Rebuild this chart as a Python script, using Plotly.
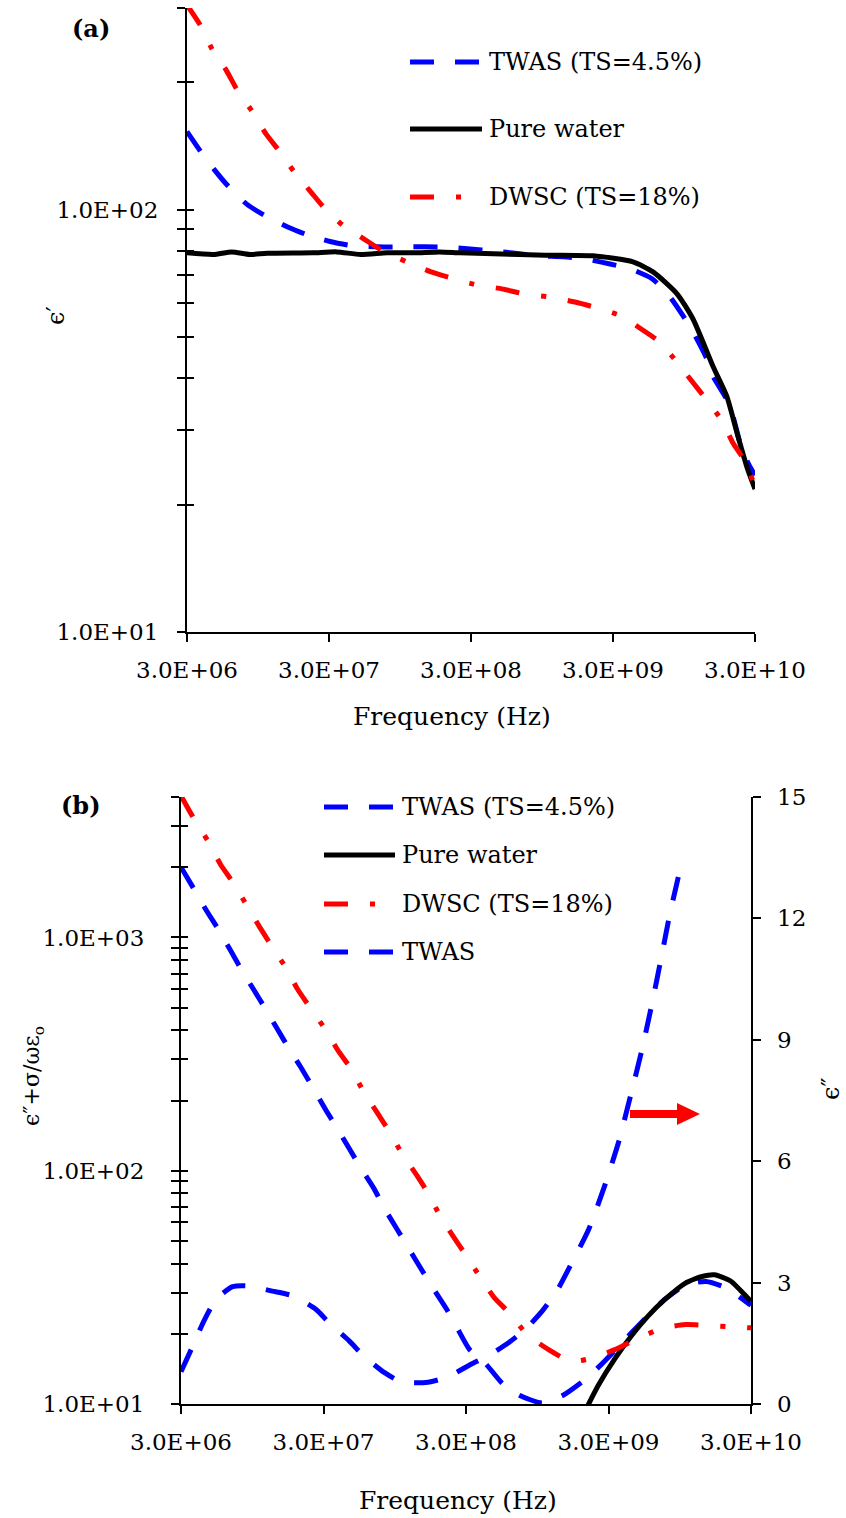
import numpy as np
import plotly.graph_objects as go

W, H = 846, 1518

# ---------------- data: panel (a) real permittivity ----------------
a_twas_f = [3.0e6, 3.7e6, 4.7e6, 5.8e6, 7.9e6, 1.06e7, 1.52e7, 2.1e7, 3.05e7, 4.4e7, 6.5e7, 1.0e8,
            2.0e8, 2.95e8, 4.3e8, 6.6e8, 8.9e8, 1.33e9, 1.9e9, 2.86e9, 3.95e9, 5.65e9, 7.3e9, 9.2e9,
            1.1e10, 1.38e10, 1.52e10, 1.9e10, 2.1e10, 2.35e10, 2.68e10, 3.0e10]
a_twas_v = [153, 138, 124, 114, 103, 96.8, 91.1, 87.2, 84.0, 82.1, 81.6, 81.6,
            81.5, 80.7, 79.8, 78.6, 77.7, 77.3, 76.4, 74.3, 72.4, 68.6, 63.1, 56.5,
            51.3, 44.2, 40.3, 35.5, 32.4, 28.1, 25.1, 23.5]

a_water_f = [3.0e6, 4.6e6, 6.2e6, 8.3e6, 1.1e7, 2.3e7, 3.4e7, 5.0e7, 7.7e7, 1.2e8, 1.8e8, 2.5e8,
             4.3e8, 1.0e9, 2.17e9, 4.15e9, 5.74e9, 8.5e9, 1.1e10, 1.52e10, 1.9e10, 2.24e10,
             2.64e10, 3.0e10]
a_water_v = [79.0, 78.3, 79.4, 78.3, 78.8, 79.0, 79.4, 78.3, 79.0, 79.0, 79.4, 79.0,
             78.6, 78.0, 77.7, 75.2, 71.2, 63.1, 55.0, 42.5, 36.1, 29.6,
             24.5, 21.8]

a_dwsc_f = [3.0e6, 3.7e6, 4.5e6, 5.7e6, 6.7e6, 8.6e6, 1.08e7, 1.33e7, 1.7e7, 2.24e7, 2.77e7,
            3.77e7, 5.4e7, 7.3e7, 1.06e8, 1.57e8, 2.2e8, 3.3e8, 4.95e8, 7.2e8, 1.06e9, 1.62e9,
            2.31e9, 3.41e9, 4.88e9, 6.43e9, 8.47e9, 1.1e10, 1.38e10, 1.76e10, 2.1e10, 2.6e10, 3.0e10]
a_dwsc_v = [305, 274, 240, 213, 193, 171, 151, 138, 123, 110, 101,
            91.7, 84.8, 79.5, 75.2, 71.2, 68.8, 66.3, 64.9, 63.1, 62.1, 60.4,
            58.5, 56.0, 51.8, 48.5, 43.5, 38.9, 35.3, 31.6, 28.0, 25.1, 22.0]

# ---------------- data: panel (b) loss ----------------
b_twas_f = [3.0e6, 3.66e6, 4.5e6, 5.4e6, 6.64e6, 7.9e6, 9.7e6, 1.17e7, 1.43e7, 1.71e7, 2.1e7,
            2.54e7, 3.1e7, 3.74e7, 4.6e7, 5.47e7, 6.8e7, 8.0e7, 9.8e7, 1.18e8, 1.45e8, 1.73e8,
            2.2e8, 2.6e8, 3.18e8, 4.15e8, 5.43e8, 7.1e8, 1.03e9, 1.44e9, 2.08e9, 2.62e9, 3.56e9,
            4.35e9, 6.1e9, 7.4e9, 1.04e10, 1.45e10, 2.03e10, 2.84e10, 3.0e10]
b_twas_v = [2000, 1630, 1312, 1099, 885, 734, 598, 496, 403, 335, 275,
            226, 183, 152, 123, 103, 83.6, 69.3, 56.4, 46.8, 38.0, 31.9,
            25.4, 21.2, 17.1, 14.8, 12.2, 10.9, 10.1, 10.9, 12.8, 14.6, 17.7,
            20.2, 25.0, 28.0, 32.4, 33.5, 31.4, 27.1, 26.5]

b_water_f = [2.05e9, 2.54e9, 3.32e9, 4.35e9, 5.68e9, 7.43e9, 1.04e10, 1.36e10, 1.66e10,
             2.17e10, 2.84e10, 3.0e10]
b_water_v = [9.3, 12.0, 15.6, 19.6, 23.8, 28.0, 33.0, 35.2, 35.8, 33.6, 28.5, 27.6]

b_dwsc_f = [3.0e6, 3.71e6, 4.67e6, 5.7e6, 6.94e6, 8.6e6, 1.07e7, 1.28e7, 1.62e7, 1.98e7, 2.4e7,
            3.06e7, 3.78e7, 4.65e7, 5.7e7, 7.2e7, 8.7e7, 1.07e8, 1.36e8, 1.63e8, 1.98e8, 2.48e8,
            3.03e8, 3.8e8, 4.75e8, 6.2e8, 8.0e8, 1.14e9, 1.49e9, 1.85e9, 2.34e9, 3.32e9, 4.65e9,
            6.95e9, 1.04e10, 1.5e10, 2.25e10, 3.0e10]
b_dwsc_v = [4050, 3214, 2570, 2050, 1722, 1384, 1107, 931, 747, 598, 503,
            407, 329, 275, 220, 176, 147, 118, 95.3, 79.8, 63.8, 51.5,
            43.0, 34.7, 28.5, 24.2, 19.9, 17.1, 15.6, 15.3, 15.8, 17.1, 18.9,
            21.0, 21.9, 21.7, 21.4, 21.2]

# TWAS epsilon'' (right axis)
b_eps2_f = [3.0e6, 3.55e6, 4.34e6, 5.3e6, 6.9e6, 8.8e6, 1.31e7, 1.84e7, 2.65e7, 3.36e7, 4.54e7,
            5.74e7, 8.0e7, 1.05e8, 1.57e8, 2.2e8, 3.28e8, 4.3e8, 6.0e8, 7.85e8, 1.03e9, 1.3e9,
            1.56e9, 2.18e9, 2.83e9, 3.55e9, 4.3e9, 5.13e9, 6.03e9, 7.0e9, 8.1e9, 1.0e10]
b_eps2_v = [0.80, 1.36, 2.05, 2.59, 2.90, 2.92, 2.79, 2.67, 2.34, 1.97, 1.56,
            1.19, 0.78, 0.55, 0.53, 0.66, 0.99, 1.19, 1.52, 1.85, 2.30, 2.79,
            3.31, 4.32, 5.41, 6.50, 7.64, 8.73, 9.86, 10.99, 12.12, 13.52]

# ---------------- ticks ----------------
x_tickvals = [3e6, 3e7, 3e8, 3e9, 3e10]
x_ticktext = ["3.0E+06", "3.0E+07", "3.0E+08", "3.0E+09", "3.0E+10"]

a_y_tickvals = [10, 20, 30, 40, 50, 60, 70, 80, 90, 100, 200, 300]
a_y_ticktext = ["1.0E+01"] + [" "] * 8 + ["1.0E+02", " ", " "]

b_y_tickvals = [10, 20, 30, 40, 50, 60, 70, 80, 90,
                100, 200, 300, 400, 500, 600, 700, 800, 900,
                1000, 2000, 3000, 4000]
b_y_ticktext = (["1.0E+01"] + [" "] * 8 + ["1.0E+02"] + [" "] * 8 + ["1.0E+03", " ", " ", " "])

b_r_tickvals = [0, 3, 6, 9, 12, 15]
b_r_ticktext = ["0", "3", "6", "9", "12", "15"]

legend_a = ["TWAS (TS=4.5%)", "Pure water", "DWSC (TS=18%)"]
legend_b = ["TWAS (TS=4.5%)", "Pure water", "DWSC (TS=18%)", "TWAS"]

# ---------------- styling ----------------
FONT = "DejaVu Serif"
BLUE, RED, BLACK = "#0000FF", "#FF0000", "#000000"
DASH_B = "24px,21px"
DASH_R = "24px,22px,5px,22px"
LW = 5


def px(x):
    return x / W


def py(y):
    return 1 - y / H


fig = go.Figure()


def line(xs, ys, color, dash, xa, ya, name):
    fig.add_trace(go.Scatter(
        x=xs, y=ys, xaxis=xa, yaxis=ya, mode="lines", name=name, showlegend=False,
        line=dict(color=color, width=LW, dash=dash, shape="spline", smoothing=0.6),
        hoverinfo="skip"))


# panel (a)
line(a_twas_f, a_twas_v, BLUE, DASH_B, "x", "y", legend_a[0])
line(a_water_f, a_water_v, BLACK, "solid", "x", "y", legend_a[1])
line(a_dwsc_f, a_dwsc_v, RED, DASH_R, "x", "y", legend_a[2])
# panel (b)
line(b_twas_f, b_twas_v, BLUE, DASH_B, "x2", "y2", legend_b[0])
line(b_water_f, b_water_v, BLACK, "solid", "x2", "y2", legend_b[1])
line(b_dwsc_f, b_dwsc_v, RED, DASH_R, "x2", "y2", legend_b[2])
line(b_eps2_f, b_eps2_v, BLUE, DASH_B, "x2", "y3", legend_b[3])

# empty traces so the helper overlay axes are drawn
fig.add_trace(go.Scatter(x=[], y=[], xaxis="x", yaxis="y5", showlegend=False))
fig.add_trace(go.Scatter(x=[], y=[], xaxis="x2", yaxis="y4", showlegend=False))
fig.add_trace(go.Scatter(x=[], y=[], xaxis="x2", yaxis="y6", showlegend=False))

xr = [np.log10(3e6), np.log10(3e10)]
TICKFONT = dict(family=FONT, size=23, color=BLACK)
ax_common = dict(showgrid=False, zeroline=False, showline=True, linewidth=2, linecolor=BLACK,
                 ticks="outside", ticklen=8, tickwidth=2, tickcolor=BLACK, automargin=False,
                 tickfont=TICKFONT)
ov_common = dict(ticks="inside", ticklen=7, tickwidth=2, tickcolor=BLACK, automargin=False,
                 showticklabels=False, showline=False, showgrid=False, zeroline=False)

fig.update_layout(
    width=W, height=H, autosize=False,
    margin=dict(l=0, r=0, t=0, b=0, pad=0, autoexpand=False),
    paper_bgcolor="white", plot_bgcolor="white",
    font=dict(family=FONT, color=BLACK),
    showlegend=False,
    xaxis=dict(domain=[px(187), px(755)], anchor="y", type="log", range=xr,
               tickvals=x_tickvals, ticktext=x_ticktext, ticklabelstandoff=8, **ax_common),
    yaxis=dict(domain=[py(632), py(8)], anchor="x", type="log", range=[1, np.log10(300)],
               tickvals=a_y_tickvals, ticktext=a_y_ticktext, ticklabelstandoff=14, **ax_common),
    yaxis5=dict(overlaying="y", anchor="x", side="left", type="log", range=[1, np.log10(300)],
                tickvals=a_y_tickvals, **ov_common),
    xaxis2=dict(domain=[px(181), px(751)], anchor="y2", type="log", range=xr,
                tickvals=x_tickvals, ticktext=x_ticktext, ticklabelstandoff=8, **ax_common),
    yaxis2=dict(domain=[py(1404), py(797)], anchor="x2", type="log", range=[1, np.log10(4000)],
                tickvals=b_y_tickvals, ticktext=b_y_ticktext, ticklabelstandoff=22, **ax_common),
    # right axis: line and ticks
    yaxis3=dict(overlaying="y2", anchor="x2", side="right", range=[0, 15],
                tickvals=b_r_tickvals, showticklabels=False, **ax_common),
    # right axis labels, set a little further out
    yaxis6=dict(overlaying="y2", anchor="free", position=px(776), side="right", range=[0, 15],
                tickvals=b_r_tickvals, ticktext=b_r_ticktext, ticks="", showline=False,
                showgrid=False, zeroline=False, automargin=False, tickfont=TICKFONT),
    yaxis4=dict(overlaying="y2", anchor="x2", side="left", type="log", range=[1, np.log10(4000)],
                tickvals=b_y_tickvals, **ov_common),
)

ann = []


def text(x, y, s, size, angle=0, bold=False, xanchor="center"):
    ann.append(dict(x=px(x), y=py(y), xref="paper", yref="paper", text=("<b>%s</b>" % s) if bold else s,
                    showarrow=False, xanchor=xanchor, yanchor="middle", textangle=angle,
                    font=dict(family=FONT, size=size, color=BLACK)))


text(91, 28, "(a)", 24, bold=True)
text(81, 805, "(b)", 24, bold=True)
text(452, 717, "Frequency (Hz)", 25)
text(458, 1500, "Frequency (Hz)", 25)
text(56, 316, "ϵ′", 24, angle=-90)
text(33, 1076, "ϵ″+σ/ωε<sub>o</sub>", 22, angle=-90)
text(831, 1089, "ϵ″", 24, angle=-90)

shapes = []
# custom legends
leg_styles = [(BLUE, DASH_B), (BLACK, "solid"), (RED, DASH_R)]
for i, (lab, yy) in enumerate(zip(legend_a, [62, 129, 197])):
    c, d = leg_styles[i]
    shapes.append(dict(type="line", xref="paper", yref="paper", x0=px(410), x1=px(482),
                       y0=py(yy), y1=py(yy), line=dict(color=c, width=LW, dash=d)))
    text(487, yy, lab, 24, xanchor="left")
leg_styles_b = leg_styles + [(BLUE, DASH_B)]
for i, (lab, yy) in enumerate(zip(legend_b, [807, 855, 904, 952])):
    c, d = leg_styles_b[i]
    shapes.append(dict(type="line", xref="paper", yref="paper", x0=px(324), x1=px(395),
                       y0=py(yy), y1=py(yy), line=dict(color=c, width=LW, dash=d)))
    text(400, yy, lab, 24, xanchor="left")

# red arrow pointing to the right axis
shapes.append(dict(type="rect", xref="paper", yref="paper", x0=px(630), x1=px(678),
                   y0=py(1118), y1=py(1110), fillcolor=RED, line=dict(width=0)))
shapes.append(dict(type="path", xref="paper", yref="paper",
                   path="M %f,%f L %f,%f L %f,%f Z" % (px(677), py(1103), px(700), py(1114), px(677), py(1125)),
                   fillcolor=RED, line=dict(width=0)))

fig.update_layout(annotations=ann, shapes=shapes)

fig.write_html("out.html", config={"displayModeBar": False},
               post_script="document.body.style.margin='0';document.body.style.padding='0';")
